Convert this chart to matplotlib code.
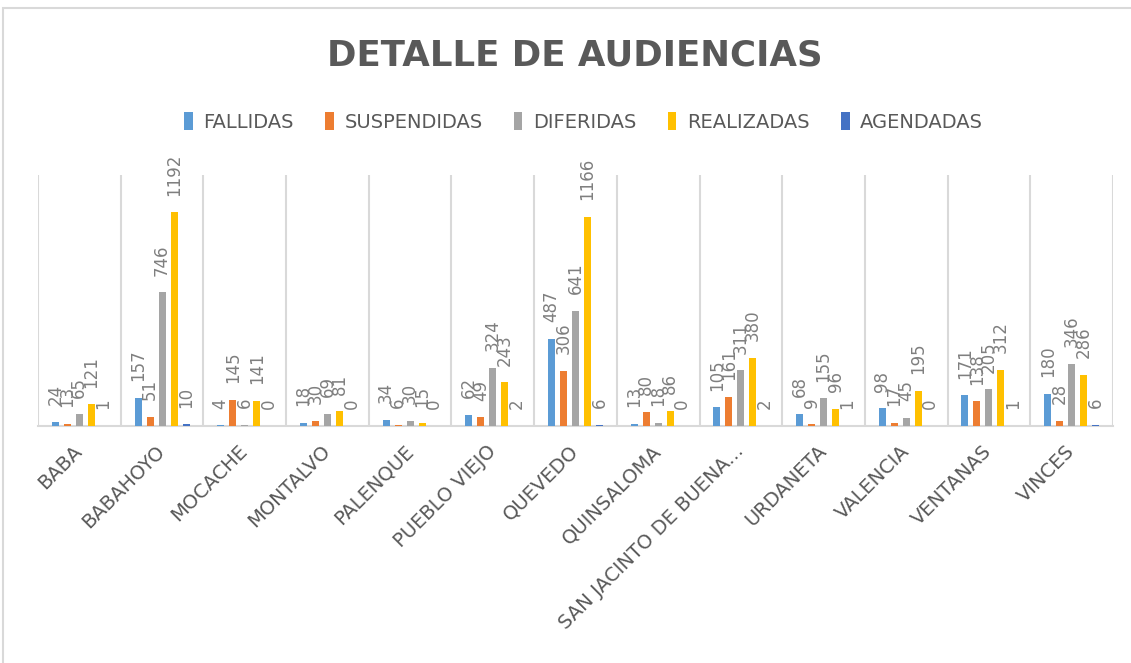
import numpy as np
import matplotlib
matplotlib.use("Agg")
import matplotlib.pyplot as plt
from matplotlib.patches import Rectangle

cantones = ["BABA", "BABAHOYO", "MOCACHE", "MONTALVO", "PALENQUE", "PUEBLO VIEJO",
            "QUEVEDO", "QUINSALOMA", "SAN JACINTO DE BUENA...", "URDANETA",
            "VALENCIA", "VENTANAS", "VINCES"]
series = ["FALLIDAS", "SUSPENDIDAS", "DIFERIDAS", "REALIZADAS", "AGENDADAS"]
fallidas = [24, 157, 4, 18, 34, 62, 487, 13, 105, 68, 98, 171, 180]
suspendidas = [13, 51, 145, 30, 6, 49, 306, 80, 161, 9, 17, 138, 28]
diferidas = [65, 746, 6, 69, 30, 324, 641, 18, 311, 155, 45, 205, 346]
realizadas = [121, 1192, 141, 81, 15, 243, 1166, 86, 380, 96, 195, 312, 286]
agendadas = [1, 10, 0, 0, 0, 2, 6, 0, 2, 1, 0, 1, 6]
colores = ["#5B9BD5", "#ED7D31", "#A5A5A5", "#FFC000", "#4472C4"]

valores = [fallidas, suspendidas, diferidas, realizadas, agendadas]

fig = plt.figure(figsize=(11.31, 6.63), dpi=100)
ax = fig.add_axes([38/1131, 1-426/663, (1113-38)/1131, (426-175)/663])

x = np.arange(len(cantones))
paso = 0.145
ancho = 0.085
for i, (nombre, vals, col) in enumerate(zip(series, valores, colores)):
    pos = x + (i - 2) * paso
    ax.bar(pos, vals, width=ancho, color=col, label=nombre, zorder=3)
    for p, v in zip(pos, vals):
        ax.annotate(str(v), (p, v), xytext=(0, 12), textcoords="offset points",
                    rotation=90, ha="center", va="bottom", fontsize=12,
                    color="#7f7f7f", annotation_clip=False)

ax.set_xlim(-0.5, len(cantones) - 0.5)
ax.set_ylim(0, 1400)
ax.set_yticks([])
for b in np.arange(-0.5, len(cantones), 1.0):
    ax.axvline(b, color="#D9D9D9", lw=1.5, zorder=1)
for s in ["top", "left", "right"]:
    ax.spines[s].set_visible(False)
ax.spines["bottom"].set_color("#D9D9D9")
ax.spines["bottom"].set_linewidth(1.5)

ax.set_xticks(x)
ax.set_xticklabels(cantones, rotation=45, ha="right", va="center",
                   rotation_mode="anchor", fontsize=14, color="#595959")
ax.tick_params(axis="x", length=0, pad=16)

fig.text(0.508, 1-55/663, "DETALLE DE AUDIENCIAS", ha="center", va="center",
         fontsize=25.7, fontweight="bold", color="#595959")

fig.legend(loc="center", bbox_to_anchor=(0.516, 1-122/663), ncol=5, frameon=False,
           fontsize=14, labelcolor="#595959", handlelength=0.45, handleheight=1.0,
           handletextpad=0.55, columnspacing=1.6)

fig.patches.append(Rectangle((3/1131, -0.1), 1.2, 1.1 - 8/663, transform=fig.transFigure,
                             fill=False, edgecolor="#D9D9D9", lw=1.5))

fig.savefig("out.png", dpi=100)
